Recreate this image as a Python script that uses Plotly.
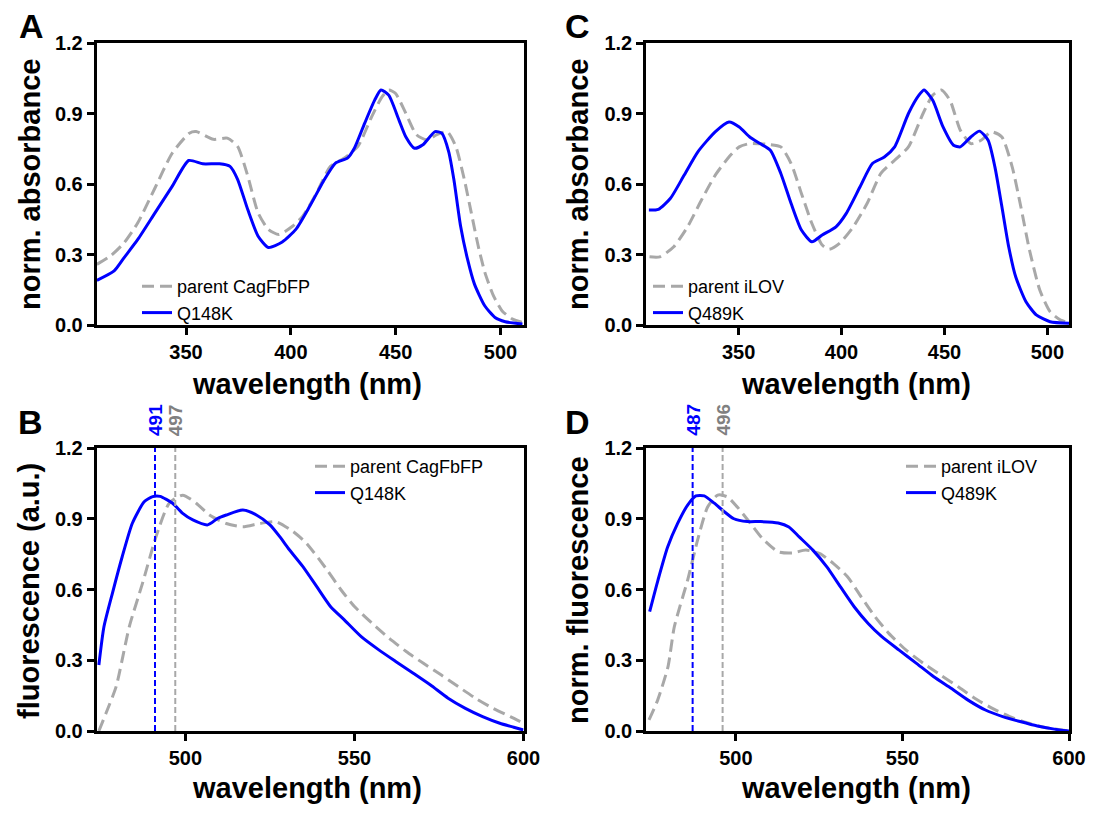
import plotly.graph_objects as go

# the page draws the figure 8 px in from the top-left corner of the window;
# keep the figure inside the window (8 px body margin on every side)
OFF = 8
W, H = 1096 - 2 * OFF, 814 - 2 * OFF

# ---------------- Panel A: absorbance, CagFbFP ----------------
a_par_x = [307.5, 314, 320.5, 327, 335.2, 343.4, 351.6, 354.8, 363, 369.7, 374.6, 379.5, 384.4, 389.3, 394.3,
           400.8, 405.7, 412.3, 418.9, 425.4, 432, 438.6, 443.5, 446.7, 450, 454.9, 459.9, 464.8, 469.7, 474.6,
           478.7, 482.8, 486.1, 489.4, 492.6, 496.7, 500.8, 505.8, 510.7]
a_par_y = [0.258, 0.294, 0.35, 0.435, 0.583, 0.731, 0.816, 0.823, 0.79, 0.795, 0.76, 0.633, 0.477, 0.407, 0.385,
           0.42, 0.463, 0.562, 0.675, 0.71, 0.76, 0.887, 0.971, 1.0, 0.985, 0.90, 0.81, 0.788, 0.81, 0.823,
           0.76, 0.618, 0.477, 0.336, 0.223, 0.124, 0.06, 0.025, 0.011]
a_mut_x = [307.5, 315.7, 320.5, 327, 335.2, 343.4, 351.3, 358, 366, 371, 374.6, 379.5, 384.4, 389.3, 395.9,
           402.4, 409, 415.5, 421.3, 427, 430.3, 435.2, 440, 443, 446.7, 451.6, 454.9, 459, 463, 468.8,
           472, 475.3, 477.8, 481, 484.3, 487.6, 492.5, 497.4, 502.3, 510.5]
a_mut_y = [0.19, 0.23, 0.287, 0.364, 0.477, 0.59, 0.70, 0.686, 0.686, 0.675, 0.62, 0.49, 0.378, 0.33, 0.353,
           0.407, 0.505, 0.611, 0.689, 0.71, 0.752, 0.858, 0.957, 1.0, 0.978, 0.872, 0.80, 0.752, 0.767, 0.823,
           0.816, 0.738, 0.618, 0.42, 0.28, 0.174, 0.082, 0.032, 0.014, 0.004]

# ---------------- Panel C: absorbance, iLOV ----------------
c_par_x = [306.7, 311.7, 318.5, 325.2, 331.9, 338.6, 345.3, 350.3, 355.4, 363.8, 370.5, 375.5, 380.5, 385.6,
           390.6, 394, 399, 405.7, 412.4, 419.1, 425.8, 432.5, 439.6, 444.3, 448.5, 452.7, 457.7, 462.8,
           467.8, 472.8, 477.9, 482.9, 487.1, 491.3, 496.3, 501.3, 506.4, 510.6]
c_par_y = [0.29, 0.29, 0.333, 0.418, 0.531, 0.637, 0.715, 0.758, 0.772, 0.769, 0.758, 0.687, 0.56, 0.432,
           0.34, 0.322, 0.347, 0.418, 0.517, 0.645, 0.701, 0.758, 0.90, 0.978, 1.0, 0.956, 0.829, 0.772,
           0.786, 0.822, 0.80, 0.673, 0.503, 0.319, 0.149, 0.057, 0.021, 0.01]
c_mut_x = [306.4, 311, 316.8, 323.5, 330.2, 338.6, 345.3, 350.3, 355.4, 360.4, 365.4, 370.5, 375.5, 380.5,
           385.6, 390.6, 397.3, 402.3, 409, 415, 420.8, 425.8, 432.5, 437.6, 440.1, 444.3, 449.3, 454.4,
           457.7, 462.8, 467, 471.2, 474.5, 477.9, 481.2, 484.6, 489.6, 494.6, 501.3, 510.6]
c_mut_y = [0.489, 0.492, 0.538, 0.637, 0.737, 0.822, 0.864, 0.843, 0.80, 0.772, 0.744, 0.645, 0.517, 0.404,
           0.354, 0.383, 0.418, 0.475, 0.588, 0.687, 0.715, 0.758, 0.90, 0.978, 1.0, 0.956, 0.843, 0.765,
           0.758, 0.80, 0.825, 0.786, 0.673, 0.503, 0.333, 0.205, 0.099, 0.043, 0.014, 0.007]

# ---------------- Panel B: fluorescence, CagFbFP ----------------
b_par_x = [474.4, 476.5, 479.5, 483.4, 487.3, 491.3, 495.2, 499.2, 503.2, 507.1, 512.1, 517, 522, 526.9,
           531.9, 535.8, 541.9, 546, 550, 555.2, 560.3, 565.3, 570.4, 575.6, 580.7, 585.8, 591, 596.1, 600]
b_par_y = [0.0, 0.075, 0.188, 0.442, 0.626, 0.824, 0.966, 1.0, 0.966, 0.916, 0.88, 0.866, 0.88, 0.887,
           0.845, 0.796, 0.683, 0.599, 0.528, 0.457, 0.393, 0.337, 0.287, 0.238, 0.188, 0.139, 0.096, 0.061, 0.033]
b_mut_x = [474.4, 475.9, 478.4, 481.3, 484.3, 487.8, 490.3, 492.5, 496.2, 499.2, 502.2, 506.6, 509.6, 512.1,
           517, 521, 525, 527.9, 530.4, 534.7, 538.8, 542.9, 547, 552, 557.2, 562.3, 567.4, 572.5, 577.7,
           582.8, 587.9, 593, 597.1, 600]
b_mut_y = [0.28, 0.442, 0.584, 0.739, 0.881, 0.972, 0.994, 0.995, 0.966, 0.923, 0.895, 0.874, 0.902, 0.916,
           0.937, 0.916, 0.874, 0.824, 0.775, 0.698, 0.613, 0.528, 0.471, 0.40, 0.344, 0.294, 0.245, 0.195,
           0.139, 0.096, 0.061, 0.033, 0.016, 0.004]

# ---------------- Panel D: fluorescence, iLOV ----------------
d_par_x = [473.9, 476.5, 479.6, 481.5, 485.5, 488.5, 491.5, 494.5, 497.4, 500.4, 504.4, 507.9, 512.7, 516.9,
           521, 525.2, 529.3, 533.5, 537.6, 541.8, 545.9, 551.1, 556.3, 561.5, 566.7, 571.8, 577, 582.2,
           587.4, 592.5, 600]
d_par_y = [0.047, 0.131, 0.272, 0.442, 0.64, 0.81, 0.95, 1.0, 0.993, 0.95, 0.88, 0.817, 0.76, 0.755,
           0.767, 0.752, 0.71, 0.654, 0.569, 0.484, 0.414, 0.343, 0.287, 0.237, 0.188, 0.138, 0.096, 0.061,
           0.035, 0.016, 0.0]
d_mut_x = [474.1, 476.6, 479.5, 482.5, 485.5, 488, 490.5, 493.5, 496.5, 499.4, 503.4, 507.4, 512.7,
           515.9, 519, 523.1, 527.3, 531.4, 535.5, 539.7, 543.8, 549, 554.2, 559.4, 564.6, 569.7, 574.9,
           580.1, 585.3, 590.5, 595.6, 600]
d_mut_y = [0.506, 0.64, 0.78, 0.88, 0.958, 0.997, 0.997, 0.966, 0.93, 0.90, 0.888, 0.888, 0.882,
           0.865, 0.823, 0.767, 0.696, 0.611, 0.527, 0.456, 0.40, 0.343, 0.287, 0.23, 0.181, 0.131, 0.089,
           0.061, 0.04, 0.021, 0.008, 0.0]

# emission peak markers (mutant, parent)
b_peaks = [491, 497]
d_peaks = [487, 496]

names_cag = ["parent CagFbFP", "Q148K"]
names_ilov = ["parent iLOV", "Q489K"]

BLUE = "#0000FF"
GRAY = "#A8A8A8"
FONT = "Liberation Sans, Arial, sans-serif"

fig = go.Figure()

panels = [
    ("x", "y", "legend", a_par_x, a_par_y, a_mut_x, a_mut_y, names_cag),
    ("x2", "y2", "legend2", c_par_x, c_par_y, c_mut_x, c_mut_y, names_ilov),
    ("x3", "y3", "legend3", b_par_x, b_par_y, b_mut_x, b_mut_y, names_cag),
    ("x4", "y4", "legend4", d_par_x, d_par_y, d_mut_x, d_mut_y, names_ilov),
]

for xa, ya, lg, px, py, mx, my, nm in panels:
    fig.add_trace(go.Scatter(x=px, y=py, mode="lines", name=nm[0], xaxis=xa, yaxis=ya, legend=lg,
                             line=dict(color=GRAY, width=3, dash="12px,6px", shape="spline", smoothing=0.6)))
    fig.add_trace(go.Scatter(x=mx, y=my, mode="lines", name=nm[1], xaxis=xa, yaxis=ya, legend=lg,
                             line=dict(color=BLUE, width=3, shape="spline", smoothing=0.6)))

for xa, ya, peaks in [("x3", "y3", b_peaks), ("x4", "y4", d_peaks)]:
    for val, col in zip(peaks, [BLUE, GRAY]):
        fig.add_trace(go.Scatter(x=[val, val], y=[0, 1.2], mode="lines", xaxis=xa, yaxis=ya,
                                 showlegend=False, hoverinfo="skip",
                                 line=dict(color=col, width=2, dash="6px,3px")))


def px2x(p):
    return (p - OFF) / W


def px2y(p):
    return 1 - (p - OFF) / H


axis_common = dict(showline=True, mirror=True, linecolor="black", linewidth=2.5, ticks="outside",
                   ticklen=7, tickwidth=2.5, tickcolor="black", showgrid=False, zeroline=False,
                   automargin=False, ticklabeloverflow="allow",
                   tickfont=dict(family=FONT, size=20, color="black", weight="bold"))

ydomA = [px2y(325), px2y(43)]
ydomB = [px2y(731), px2y(448)]
xdomL = [px2x(96.5), px2x(523.5)]
xdomR = [px2x(646), px2x(1069)]

yaxis_common = dict(axis_common, range=[0, 1.2], tickvals=[0, 0.3, 0.6, 0.9, 1.2], tickformat=".1f")

fig.update_layout(
    width=W, height=H,
    margin=dict(l=0, r=0, t=0, b=0, autoexpand=False),
    paper_bgcolor="white", plot_bgcolor="white",
    font=dict(family=FONT, color="black"),
    xaxis=dict(axis_common, domain=xdomL, range=[307.3, 511], tickvals=[350, 400, 450, 500], anchor="y"),
    yaxis=dict(yaxis_common, domain=ydomA, anchor="x"),
    xaxis2=dict(axis_common, domain=xdomR, range=[305, 510.5], tickvals=[350, 400, 450, 500], anchor="y2"),
    yaxis2=dict(yaxis_common, domain=ydomA, anchor="x2"),
    xaxis3=dict(axis_common, domain=xdomL, range=[473.7, 600], tickvals=[500, 550, 600], anchor="y3"),
    yaxis3=dict(yaxis_common, domain=ydomB, anchor="x3"),
    xaxis4=dict(axis_common, domain=xdomR, range=[473, 600], tickvals=[500, 550, 600], anchor="y4"),
    yaxis4=dict(yaxis_common, domain=ydomB, anchor="x4"),
)

leg_common = dict(font=dict(family=FONT, size=18, color="black"), bgcolor="rgba(0,0,0,0)",
                  xanchor="left", yanchor="top", itemwidth=30, tracegroupgap=0)
fig.update_layout(
    legend=dict(leg_common, x=px2x(137), y=px2y(268)),
    legend2=dict(leg_common, x=px2x(648), y=px2y(268)),
    legend3=dict(leg_common, x=px2x(310), y=px2y(448)),
    legend4=dict(leg_common, x=px2x(901), y=px2y(448)),
)

ann = []
for txt, x, y in [("A", 31, 26), ("C", 577, 26), ("B", 30, 422), ("D", 577, 422)]:
    ann.append(dict(text=f"<b>{txt}</b>", x=px2x(x), y=px2y(y), xref="paper", yref="paper",
                    showarrow=False, xanchor="center", yanchor="middle",
                    font=dict(family=FONT, size=34, color="black")))
for x, y in [(307, 384), (856, 384), (307, 788), (856, 788)]:
    ann.append(dict(text="<b>wavelength (nm)</b>", x=px2x(x), y=px2y(y), xref="paper", yref="paper",
                    showarrow=False, xanchor="center", yanchor="middle",
                    font=dict(family=FONT, size=29, color="black")))
for txt, x, y in [("norm. absorbance", 30, 185), ("norm. absorbance", 578, 185),
                  ("fluorescence (a.u.)", 29, 591), ("norm. fluorescence", 578, 590)]:
    ann.append(dict(text=f"<b>{txt}</b>", x=px2x(x), y=px2y(y), xref="paper", yref="paper",
                    showarrow=False, xanchor="center", yanchor="middle", textangle=-90,
                    font=dict(family=FONT, size=29, color="black")))
for xr, peaks in [("x3", b_peaks), ("x4", d_peaks)]:
    for val, col in zip(peaks, [BLUE, "#808080"]):
        ann.append(dict(text=f"<b>{val}</b>", x=val, y=px2y(438), xref=xr, yref="paper",
                        showarrow=False, xanchor="center", yanchor="bottom", textangle=-90,
                        font=dict(family=FONT, size=19, color=col)))
fig.update_layout(annotations=ann)

fig.write_html("out.html")
